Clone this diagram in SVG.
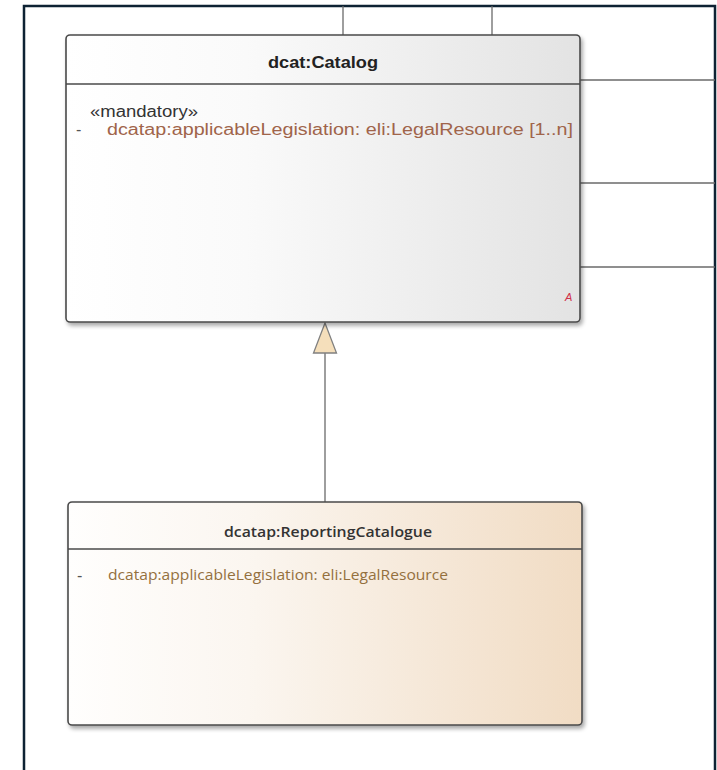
<svg xmlns="http://www.w3.org/2000/svg" width="717" height="770" viewBox="0 0 717 770">
<defs>
<linearGradient id="gCat" x1="0" y1="0" x2="1" y2="0">
<stop offset="0" stop-color="#ffffff"/>
<stop offset="0.35" stop-color="#fafafa"/>
<stop offset="1" stop-color="#e3e3e3"/>
</linearGradient>
<linearGradient id="gRep" x1="0" y1="0" x2="1" y2="0">
<stop offset="0" stop-color="#fffefd"/>
<stop offset="0.35" stop-color="#fbf6f0"/>
<stop offset="1" stop-color="#f1dcc4"/>
</linearGradient>
<filter id="shadow" x="-5%" y="-5%" width="110%" height="115%">
<feGaussianBlur in="SourceAlpha" stdDeviation="2"/>
<feOffset dx="2" dy="3" result="b"/>
<feComponentTransfer><feFuncA type="linear" slope="0.35"/></feComponentTransfer>
<feMerge><feMergeNode/><feMergeNode in="SourceGraphic"/></feMerge>
</filter>
</defs>
<style>
.frame{fill:none;stroke:#0d2233;stroke-width:2.5}
.conn{fill:none;stroke:#6a6a6a;stroke-width:1.3}
.box{stroke:#4a4a4a;stroke-width:1.6}
.sep{stroke:#4a4a4a;stroke-width:1.4}
.t1{font-family:"Liberation Sans",Arial,sans-serif;font-size:16px;font-weight:bold;fill:#222}
.s1{font-family:"Liberation Sans",Arial,sans-serif;font-size:16px;fill:#333}
.a1{font-family:"Liberation Sans",Arial,sans-serif;font-size:16px;fill:#a0644a}
.t2{font-family:"Open Sans","Noto Sans",sans-serif;font-size:15px;font-weight:600;fill:#333}
.a2{font-family:"Open Sans","Noto Sans",sans-serif;font-size:15px;fill:#94703e}
.d{font-family:"Liberation Sans",Arial,sans-serif;font-size:16px;fill:#555}
</style>
<rect width="717" height="770" fill="#ffffff"/>
<path class="frame" d="M24,770 V6 H715 V770"/>
<g id="connectors">
<line class="conn" x1="343" y1="6" x2="343" y2="35"/>
<line class="conn" x1="492" y1="6" x2="492" y2="35"/>
<line class="conn" x1="580" y1="80" x2="715" y2="80"/>
<line class="conn" x1="580" y1="183" x2="715" y2="183"/>
<line class="conn" x1="580" y1="267" x2="715" y2="267"/>
<line class="conn" x1="325" y1="353" x2="325" y2="502"/>
<polygon points="325,323 313.5,353 336.5,353" fill="#f5dfbb" stroke="#808080" stroke-width="1.3"/>
</g>
<g id="catalog">
<rect class="box" x="66" y="35" width="514" height="287" rx="4" fill="url(#gCat)" filter="url(#shadow)"/>
<line class="sep" x1="66" y1="84" x2="580" y2="84"/>
<text class="t1" x="323" y="68" text-anchor="middle" textLength="110" lengthAdjust="spacingAndGlyphs">dcat:Catalog</text>
<text class="s1" x="90" y="117" textLength="108" lengthAdjust="spacingAndGlyphs">«mandatory»</text>
<text class="d" x="76" y="135">-</text>
<text class="a1" x="107" y="135" textLength="466" lengthAdjust="spacingAndGlyphs">dcatap:applicableLegislation: eli:LegalResource [1..n]</text>
<text x="565" y="301" font-family="Liberation Sans,Arial,sans-serif" font-size="11" font-style="italic" fill="#d03048">A</text>
</g>
<g id="reportingCatalogue">
<rect class="box" x="68" y="502" width="514" height="223" rx="4" fill="url(#gRep)" filter="url(#shadow)"/>
<line class="sep" x1="68" y1="549" x2="582" y2="549"/>
<text class="t2" x="328" y="537" text-anchor="middle" textLength="208" lengthAdjust="spacingAndGlyphs">dcatap:ReportingCatalogue</text>
<text class="d" x="77" y="581">-</text>
<text class="a2" x="108" y="580" textLength="340" lengthAdjust="spacingAndGlyphs">dcatap:applicableLegislation: eli:LegalResource</text>
</g>
</svg>
